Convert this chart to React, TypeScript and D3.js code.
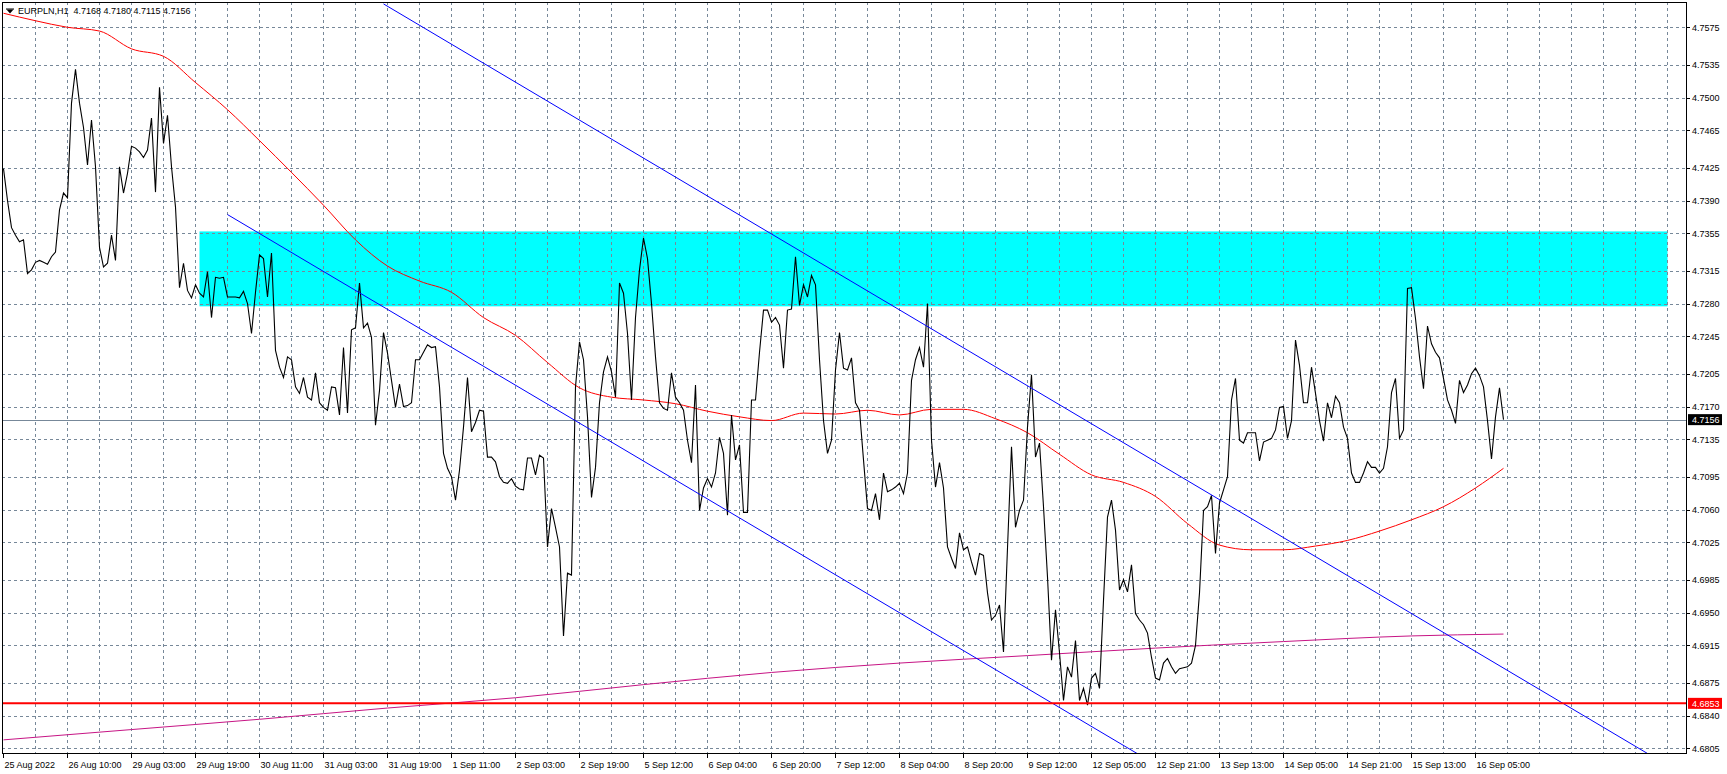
import React from 'react';
import * as d3 from 'd3';

const symbolTitle = 'EURPLN,H1';
const lastBarOHLC = [4.7168, 4.718, 4.7115, 4.7156];

// hourly closes, one per bar
const closes = [
  4.7424, 4.739, 4.7361, 4.7353, 4.7346, 4.7348, 4.7312, 4.7316, 4.7324, 4.7326, 4.7324, 4.7322, 4.733, 4.7335, 4.738, 4.7398,
  4.7393, 4.7494, 4.753, 4.7494, 4.7468, 4.7428, 4.7476, 4.7426, 4.734, 4.7319, 4.7323, 4.7353, 4.7326, 4.7426, 4.7398, 4.7419,
  4.7448, 4.7446, 4.7442, 4.7436, 4.7444, 4.7478, 4.7399, 4.7511, 4.7451, 4.7481, 4.7426, 4.7383, 4.7297, 4.7323, 4.7294, 4.7286,
  4.73, 4.7291, 4.7287, 4.7314, 4.7265, 4.7308, 4.7307, 4.7308, 4.7287, 4.7287, 4.7287, 4.7286, 4.7293, 4.728, 4.7248, 4.7292,
  4.7332, 4.7328, 4.7287, 4.7334, 4.723, 4.7212, 4.7201, 4.7223, 4.722, 4.7191, 4.7184, 4.7201, 4.718, 4.7177, 4.7206, 4.7174,
  4.7169, 4.7166, 4.7191, 4.719, 4.7161, 4.7233, 4.7163, 4.7252, 4.7254, 4.7302, 4.7254, 4.7259, 4.7244, 4.715, 4.7187, 4.7249,
  4.7227, 4.7198, 4.7169, 4.7194, 4.717, 4.7171, 4.7174, 4.722, 4.722, 4.7228, 4.7236, 4.7233, 4.7234, 4.7191, 4.712, 4.7104,
  4.7095, 4.707, 4.7102, 4.7148, 4.7201, 4.7143, 4.7153, 4.7166, 4.7165, 4.7116, 4.7116, 4.7111, 4.7095, 4.7089, 4.7088, 4.7093,
  4.7085, 4.7082, 4.7081, 4.7115, 4.7115, 4.7097, 4.7118, 4.7115, 4.702, 4.7061, 4.7041, 4.702, 4.6925, 4.6992, 4.699, 4.7191,
  4.7239, 4.722, 4.7159, 4.7073, 4.7105, 4.7174, 4.7207, 4.7223, 4.7207, 4.718, 4.7302, 4.7291, 4.7248, 4.7177, 4.7265, 4.7316,
  4.735, 4.7328, 4.728, 4.7223, 4.7174, 4.7168, 4.7166, 4.7206, 4.718, 4.7174, 4.7166, 4.7134, 4.711, 4.7193, 4.7059, 4.7083,
  4.7093, 4.7084, 4.7099, 4.7137, 4.712, 4.7054, 4.7161, 4.7113, 4.7129, 4.7057, 4.7057, 4.7177, 4.7177, 4.7228, 4.7273, 4.7273,
  4.726, 4.7265, 4.7257, 4.7211, 4.7273, 4.7274, 4.733, 4.7278, 4.73, 4.7287, 4.731, 4.73, 4.722, 4.7155, 4.712, 4.7134,
  4.7209, 4.7249, 4.7211, 4.7209, 4.7222, 4.7174, 4.7166, 4.7113, 4.7061, 4.7059, 4.7077, 4.7049, 4.7099, 4.7079, 4.7081, 4.7084,
  4.7088, 4.7077, 4.7099, 4.7198, 4.722, 4.7233, 4.7212, 4.728, 4.7134, 4.7084, 4.711, 4.7083, 4.702, 4.7008, 4.6997, 4.7035,
  4.7017, 4.702, 4.7004, 4.699, 4.7013, 4.7011, 4.6971, 4.6942, 4.6947, 4.6958, 4.6908, 4.7019, 4.7127, 4.7041, 4.7059, 4.707,
  4.7148, 4.7204, 4.7116, 4.7131, 4.7063, 4.6988, 4.6899, 4.6953, 4.6907, 4.6856, 4.6892, 4.6881, 4.692, 4.6856, 4.6869, 4.6851,
  4.688, 4.6885, 4.6869, 4.6963, 4.7052, 4.707, 4.7038, 4.6974, 4.6985, 4.6972, 4.7001, 4.6949, 4.6942, 4.6937, 4.6928, 4.6902,
  4.688, 4.6878, 4.6896, 4.6901, 4.6892, 4.6885, 4.689, 4.6891, 4.6892, 4.6896, 4.6915, 4.6971, 4.7059, 4.7063, 4.7075, 4.7013,
  4.7067, 4.7081, 4.7095, 4.7177, 4.72, 4.7134, 4.7131, 4.7142, 4.7142, 4.7142, 4.7112, 4.7132, 4.7134, 4.7136, 4.7145, 4.7169,
  4.717, 4.7136, 4.7155, 4.7241, 4.7214, 4.7174, 4.7174, 4.7212, 4.7184, 4.7155, 4.7133, 4.7174, 4.7158, 4.7181, 4.7174, 4.7148,
  4.7136, 4.7099, 4.7089, 4.7089, 4.7099, 4.7111, 4.7105, 4.7105, 4.7099, 4.7104, 4.7127, 4.7185, 4.72, 4.7136, 4.7145, 4.7296,
  4.7297, 4.7264, 4.7223, 4.7189, 4.7256, 4.7237, 4.7228, 4.7222, 4.72, 4.7177, 4.7166, 4.7152, 4.7198, 4.7185, 4.7193, 4.7205,
  4.7211, 4.7203, 4.7191, 4.7155, 4.7114, 4.7159, 4.719, 4.7156,
];

// red moving average, read at these bars
const redMaBars = [0, 8, 16, 24, 32, 40, 48, 56, 64, 72, 80, 88, 96, 104, 112, 120, 128, 136, 144, 152, 160, 168, 176, 184,
  192, 200, 208, 216, 224, 232, 240, 248, 256, 264, 272, 280, 288, 296, 304, 312, 320, 328, 336, 344, 352, 360, 368, 375];
const redMaValues = [4.759, 4.7582, 4.7575, 4.7571, 4.7552, 4.7544, 4.7516, 4.7487, 4.7454, 4.742, 4.7385, 4.7348,
  4.732, 4.7304, 4.7292, 4.7265, 4.7246, 4.7217, 4.719, 4.718, 4.7177, 4.7173, 4.7165, 4.7159, 4.7155, 4.7163, 4.7162,
  4.7166, 4.7161, 4.7167, 4.7167, 4.7157, 4.7142, 4.7119, 4.7097, 4.7089, 4.7074, 4.7045, 4.7022, 4.7017, 4.7017,
  4.7021, 4.7027, 4.7037, 4.7049, 4.7063, 4.7083, 4.7104];

// magenta (long) moving average
const magentaMaBars = [0, 32, 64, 96, 128, 160, 192, 224, 256, 288, 320, 352, 375];
const magentaMaValues = [4.6814, 4.6825, 4.6836, 4.6848, 4.6859, 4.6873, 4.6886, 4.6896, 4.6904, 4.6912, 4.6919, 4.6925, 4.6927];

// trend channel anchors [bar, price]
const upperChannel = [[95, 4.76], [410, 4.6802]];
const lowerChannel = [[56, 4.7375], [282, 4.6803]];

// resistance zone
const zoneBars = [49, 416];
const zonePrices = [4.7357, 4.7277];

const supportLevel = 4.6853;
const bidPrice = 4.7156;

const timeLabels = ['25 Aug 2022', '26 Aug 10:00', '29 Aug 03:00', '29 Aug 19:00', '30 Aug 11:00', '31 Aug 03:00',
  '31 Aug 19:00', '1 Sep 11:00', '2 Sep 03:00', '2 Sep 19:00', '5 Sep 12:00', '6 Sep 04:00', '6 Sep 20:00', '7 Sep 12:00',
  '8 Sep 04:00', '8 Sep 20:00', '9 Sep 12:00', '12 Sep 05:00', '12 Sep 21:00', '13 Sep 13:00', '14 Sep 05:00',
  '14 Sep 21:00', '15 Sep 13:00', '16 Sep 05:00'];

const priceTicks = [4.7575, 4.7535, 4.75, 4.7465, 4.7425, 4.739, 4.7355, 4.7315, 4.728, 4.7245, 4.7205, 4.717, 4.7135,
  4.7095, 4.706, 4.7025, 4.6985, 4.695, 4.6915, 4.6875, 4.684, 4.6805];

const W = 1727;
const H = 774;
const L = 2;
const T = 2;
const R = 1686;
const B = 753;
const FONT = '"Liberation Sans", Arial, sans-serif';
const GRID = '#778899';

export default function App() {
  const x = d3.scaleLinear().domain([0, 1]).range([3.5, 7.5]);
  const y = d3.scaleLinear().domain([4.7575, 4.6805]).range([27.3, 748.3]);

  const priceLine = d3.line<number>().x((_, i) => x(i)).y((d) => y(d))(closes) || '';
  const redLine = d3.line<number>().x((_, i) => x(redMaBars[i])).y((d) => y(d)).curve(d3.curveMonotoneX)(redMaValues) || '';
  const magLine = d3.line<number>().x((_, i) => x(magentaMaBars[i])).y((d) => y(d)).curve(d3.curveMonotoneX)(magentaMaValues) || '';

  const ray = (pts: number[][]) => {
    const [[b0, p0], [b1, p1]] = pts;
    const slope = (p1 - p0) / (b1 - b0);
    const bEnd = 440;
    return { x1: x(b0), y1: y(p0), x2: x(bEnd), y2: y(p0 + slope * (bEnd - b0)) };
  };
  const up = ray(upperChannel);
  const lo = ray(lowerChannel);

  const vGridBars: number[] = [];
  for (let b = 8; x(b) < R; b += 8) vGridBars.push(b);

  const snap = (v: number) => Math.round(v) + 0.5;

  return (
    <svg width={W} height={H} style={{ position: 'absolute', left: 0, top: 0, background: '#fff' }}
      xmlns="http://www.w3.org/2000/svg">
      <defs>
        <clipPath id="plot">
          <rect x={L} y={T} width={R - L} height={B - T} />
        </clipPath>
      </defs>
      <rect x={0} y={0} width={W} height={H} fill="#fff" />
      <g clipPath="url(#plot)">
        <rect x={x(zoneBars[0])} y={y(zonePrices[0])} width={x(zoneBars[1]) - x(zoneBars[0])}
          height={y(zonePrices[1]) - y(zonePrices[0])} fill="#00ffff" />
        <g stroke={GRID} strokeWidth={1} strokeDasharray="3,3" shapeRendering="crispEdges">
          {priceTicks.map((p) => (
            <line key={'h' + p} x1={L} x2={R} y1={snap(y(p))} y2={snap(y(p))} />
          ))}
          {vGridBars.map((b) => (
            <line key={'v' + b} x1={x(b)} x2={x(b)} y1={T} y2={B} />
          ))}
        </g>
        <line x1={L} x2={R} y1={snap(y(bidPrice))} y2={snap(y(bidPrice))} stroke="#778899" strokeWidth={1}
          shapeRendering="crispEdges" />
        <path d={magLine} fill="none" stroke="#c71585" strokeWidth={1} />
        <path d={redLine} fill="none" stroke="#ff0000" strokeWidth={1} />
        <path d={priceLine} fill="none" stroke="#000" strokeWidth={1.1} />
        <line {...up} stroke="#0000ff" strokeWidth={1} />
        <line {...lo} stroke="#0000ff" strokeWidth={1} />
        <line x1={L} x2={R} y1={y(supportLevel)} y2={y(supportLevel)} stroke="#ff0000" strokeWidth={2} />
      </g>

      {/* frame & axes */}
      <g stroke="#000" strokeWidth={1} shapeRendering="crispEdges" fill="none">
        <line x1={L + 0.5} x2={L + 0.5} y1={T} y2={B} />
        <line x1={L} x2={R} y1={T + 0.5} y2={T + 0.5} />
        <line x1={R + 0.5} x2={R + 0.5} y1={T} y2={B + 1} />
        <line x1={L} x2={R + 1} y1={B + 0.5} y2={B + 0.5} />
      </g>

      {/* price axis */}
      <g fontFamily={FONT} fontSize={9} fill="#000">
        {priceTicks.map((p) => (
          <g key={'pt' + p}>
            <line x1={R + 1} x2={R + 4} y1={snap(y(p))} y2={snap(y(p))} stroke="#000" shapeRendering="crispEdges" />
            <text x={R + 6} y={y(p) + 3.3}>{p.toFixed(4)}</text>
          </g>
        ))}
      </g>

      {/* bid label */}
      <rect x={R + 2} y={y(bidPrice) - 5.5} width={34} height={11} fill="#000" />
      <text x={R + 6} y={y(bidPrice) + 3.3} fontFamily={FONT} fontSize={9} fill="#fff">{bidPrice.toFixed(4)}</text>
      {/* support label */}
      <rect x={R + 2} y={y(supportLevel) - 5.5} width={34} height={11} fill="#ff0000" />
      <text x={R + 6} y={y(supportLevel) + 3.3} fontFamily={FONT} fontSize={9} fill="#fff">{supportLevel.toFixed(4)}</text>

      {/* time axis */}
      <g fontFamily={FONT} fontSize={9} fill="#000">
        {timeLabels.map((t, k) => {
          const xx = Math.round(x(k * 16)) - 0.5;
          return (
            <g key={t}>
              <line x1={xx} x2={xx} y1={B + 1} y2={B + 5} stroke="#000" shapeRendering="crispEdges" />
              <text x={xx + 1} y={768}>{t}</text>
            </g>
          );
        })}
      </g>

      {/* header */}
      <path d="M6.5,9.5 L13.5,9.5 L10,13.5 Z" fill="#000" />
      <line x1={6} x2={14} y1={9} y2={9} stroke="#000" />
      <text x={18} y={14} fontFamily={FONT} fontSize={9} fill="#000" style={{ whiteSpace: 'pre' }}>
        {symbolTitle + '  ' + lastBarOHLC.map((v) => v.toFixed(4)).join(' ')}
      </text>
    </svg>
  );
}
